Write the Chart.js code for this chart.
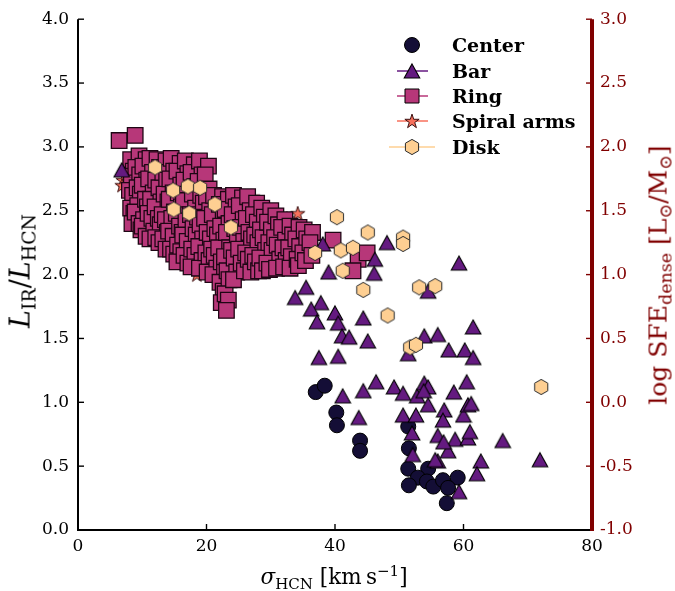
<!DOCTYPE html>
<html><head><meta charset="utf-8">
<script src="https://cdn.jsdelivr.net/npm/chart.js@4"></script>
<style>
html,body{margin:0;padding:0;background:#fff;}
#wrap{position:relative;width:675px;height:591px;overflow:hidden;background:#fff;}
#c{position:absolute;left:0;top:0;}
.t{position:absolute;white-space:nowrap;font-family:"DejaVu Serif",serif;line-height:1;}
.sub{font-size:70%;position:relative;top:0.3em;}
.sup{font-size:70%;position:relative;top:-0.5em;}
.leg{position:absolute;left:452px;font-family:"DejaVu Serif",serif;font-weight:bold;font-size:19px;line-height:22px;height:22px;white-space:nowrap;color:#000;}
</style></head><body>
<div id="wrap">
<canvas id="c" width="675" height="591"></canvas>
<div class="t" style="left:20px;top:271px;transform:translate(-50%,-50%) rotate(-90deg);font-size:27px;color:#000;"><i>L</i><span class="sub">IR</span>/<i>L</i><span class="sub">HCN</span></div>
<div class="t" style="left:334px;top:577px;transform:translate(-50%,-50%);font-size:21.5px;color:#000;"><i>σ</i><span class="sub">HCN</span> [km&#8201;s<span class="sup">−1</span>]</div>
<div class="t" style="left:658px;top:275px;transform:translate(-50%,-50%) rotate(-90deg);font-size:25px;color:#800000;">log SFE<span class="sub">dense</span> [L<span class="sub">⊙</span>/M<span class="sub">⊙</span>]</div>
<div class="leg" style="top:34px;">Center</div>
<div class="leg" style="top:60px;">Bar</div>
<div class="leg" style="top:85px;">Ring</div>
<div class="leg" style="top:110px;">Spiral arms</div>
<div class="leg" style="top:136px;">Disk</div>
</div>
<script>
// ---- data ----
const xRange = [0, 80];
const yLeftRange = [0, 4];
const yRightRange = [-1, 3];
const seriesNames = ['Center', 'Bar', 'Ring', 'Spiral arms', 'Disk'];

const centerX = [37.0,38.4,40.2,40.3,43.9,43.9,51.4,51.5,51.4,54.5,52.9,54.3,51.5,55.3,56.8,59.1,57.6,57.4];
const centerY = [1.08,1.13,0.92,0.82,0.70,0.62,0.81,0.64,0.48,0.48,0.41,0.38,0.35,0.34,0.39,0.41,0.33,0.21];

const barX = [6.8,38.1,39.0,48.1,46.2,46.1,59.3,35.5,33.8,37.8,36.3,40.0,37.2,40.5,44.4,41.1,42.2,45.1,53.9,56.0,61.5,51.4,37.5,40.5,57.7,60.2,61.5,54.5,
  41.2,44.4,46.4,49.2,50.6,52.8,53.9,54.5,53.8,58.5,60.5,43.7,50.6,52.6,54.5,57.0,56.8,60.0,60.7,61.2,52.0,56.0,58.7,60.7,61.0,57.6,56.9,52.1,56.0,55.6,66.1,62.7,62.1,59.3,71.9];
const barY = [2.82,2.24,2.02,2.25,2.12,2.01,2.09,1.90,1.82,1.78,1.73,1.70,1.63,1.62,1.66,1.52,1.51,1.48,1.52,1.53,1.59,1.38,1.35,1.36,1.41,1.41,1.35,1.87,
  1.05,1.09,1.16,1.12,1.07,1.05,1.15,1.12,1.09,1.08,1.16,0.88,0.90,0.90,0.98,0.94,0.86,0.90,0.98,0.99,0.76,0.74,0.71,0.72,0.77,0.62,0.69,0.59,0.54,0.55,0.70,0.54,0.44,0.30,0.55];

const ringX = [6.4,8.9,
  8.2,8.6,8.3,8.0,8.5,8.2,8.7,8.4,
  9.5,9.0,9.6,9.2,9.7,9.3,8.9,9.5,9.8,
  10.6,10.1,10.7,10.0,10.5,10.8,10.2,10.0,10.6,
  11.2,11.6,11.0,11.7,11.3,10.9,11.5,11.8,11.2,
  12.3,12.7,12.1,12.6,12.9,12.0,12.5,12.8,12.1,12.6,
  13.7,13.2,13.8,13.4,14.0,13.1,13.6,13.9,13.2,13.7,
  14.5,14.9,14.3,14.8,14.2,15.0,14.6,14.1,14.8,14.4,14.9,
  15.9,15.4,16.0,15.6,16.1,15.3,15.8,16.2,15.5,16.0,15.4,
  16.7,17.1,16.5,17.0,16.4,17.2,16.8,16.3,17.0,16.5,17.1,
  18.1,17.6,18.2,17.8,18.3,17.5,17.9,18.4,17.7,18.2,17.6,
  18.9,19.3,18.7,19.1,19.5,18.6,19.0,19.4,18.8,19.3,18.9,
  20.3,19.8,20.4,20.0,20.5,19.7,20.1,20.6,19.9,20.4,20.1,
  21.1,21.5,20.9,21.3,21.7,20.8,21.2,21.6,21.0,
  22.5,22.0,22.6,22.2,22.7,21.9,22.3,22.8,22.1,22.6,22.3,
  23.4,22.9,23.5,23.1,23.6,22.8,23.2,23.5,22.9,23.4,23.1,
  24.2,24.6,24.0,24.4,24.8,23.9,24.3,24.7,24.2,
  25.6,25.1,25.7,25.3,25.8,25.0,25.4,25.9,
  26.4,26.8,26.2,26.6,27.0,26.1,26.5,26.9,
  27.8,27.3,27.9,27.5,28.0,27.2,27.6,28.1,
  28.6,29.0,28.4,28.8,29.2,28.3,28.7,
  30.0,29.5,30.1,29.7,30.2,29.4,29.8,
  30.8,31.2,30.6,31.0,31.4,30.9,
  32.2,31.7,32.3,31.9,32.4,32.0,
  33.0,33.4,32.8,33.2,33.0,
  34.4,33.9,34.5,34.1,34.3,
  35.2,35.6,35.0,35.4,
  36.5,36.1,36.4,
  39.7,43.6,45.0,42.8];
const ringY = [3.05,3.09,
  2.90,2.81,2.77,2.66,2.62,2.52,2.48,2.40,
  2.93,2.84,2.78,2.68,2.63,2.54,2.49,2.40,2.35,
  2.90,2.85,2.74,2.70,2.59,2.53,2.43,2.38,2.30,
  2.91,2.80,2.75,2.64,2.59,2.48,2.44,2.34,2.28,
  2.90,2.84,2.74,2.68,2.57,2.53,2.44,2.39,2.29,2.25,
  2.89,2.80,2.74,2.63,2.57,2.47,2.43,2.33,2.28,2.20,
  2.91,2.81,2.75,2.64,2.59,2.49,2.44,2.34,2.30,2.20,2.16,
  2.87,2.81,2.70,2.64,2.53,2.48,2.38,2.33,2.23,2.18,2.10,
  2.89,2.79,2.74,2.63,2.58,2.47,2.42,2.31,2.26,2.15,2.09,
  2.86,2.80,2.69,2.63,2.52,2.47,2.36,2.31,2.20,2.15,2.06,
  2.89,2.78,2.73,2.62,2.56,2.45,2.39,2.28,2.22,2.11,2.05,
  2.85,2.78,2.67,2.61,2.50,2.44,2.33,2.28,2.17,2.11,2.02,
  2.62,2.52,2.47,2.36,2.31,2.20,2.15,2.05,2.00,
  2.61,2.55,2.44,2.38,2.27,2.21,2.10,2.04,1.94,1.87,1.78,
  2.59,2.51,2.40,2.33,2.21,2.14,2.03,1.96,1.85,1.80,1.72,
  2.62,2.53,2.47,2.36,2.30,2.19,2.13,2.02,1.96,
  2.60,2.54,2.43,2.37,2.26,2.20,2.09,2.03,
  2.61,2.50,2.44,2.33,2.28,2.17,2.12,2.02,
  2.56,2.47,2.41,2.31,2.25,2.15,2.10,2.03,
  2.52,2.45,2.35,2.29,2.19,2.13,2.03,
  2.50,2.41,2.35,2.25,2.19,2.09,2.04,
  2.46,2.39,2.29,2.23,2.12,2.05,
  2.43,2.37,2.27,2.21,2.11,2.06,
  2.38,2.31,2.21,2.14,2.05,
  2.37,2.28,2.22,2.12,2.07,
  2.35,2.28,2.17,2.11,
  2.33,2.25,2.15,
  2.27,2.12,2.17,2.03];

const spiralX = [7.0,6.85,18.5,27.2,34.2,32.5,33.3];
const spiralY = [2.74,2.70,2.00,2.61,2.48,2.44,2.20];

const diskX = [12.0,14.8,17.1,19.0,21.3,14.9,17.3,23.8,40.3,45.1,50.6,50.6,36.9,40.9,42.8,41.2,44.4,53.1,55.6,48.2,51.7,52.6,72.1];
const diskY = [2.84,2.66,2.69,2.68,2.55,2.51,2.48,2.37,2.45,2.33,2.29,2.24,2.17,2.19,2.21,2.03,1.88,1.90,1.91,1.68,1.43,1.45,1.12];

// ---- styling ----
const COL = {center:'#140e36', bar:'#641a80', ring:'#b73779', spiral:'#f7705c', disk:'#fecf92'};
const MAROON = '#800000';
const FONT = '"DejaVu Serif", serif';

function markerCanvas(w, h, draw){
  const c = document.createElement('canvas'); c.width = w; c.height = h;
  const g = c.getContext('2d'); draw(g, w/2, h/2); return c;
}
function triPath(g, cx, cy, w, h){
  g.beginPath(); g.moveTo(cx, cy - h/2); g.lineTo(cx + w/2, cy + h/2); g.lineTo(cx - w/2, cy + h/2); g.closePath();
}
function starPath(g, cx, cy, R){
  const r = R * 0.382; g.beginPath();
  for(let i=0;i<10;i++){const a=-Math.PI/2+i*Math.PI/5; const rr=i%2?r:R; const px=cx+rr*Math.cos(a), py=cy+rr*Math.sin(a); i?g.lineTo(px,py):g.moveTo(px,py);}
  g.closePath();
}
function hexPath(g, cx, cy, R){
  g.beginPath();
  for(let i=0;i<6;i++){const a=-Math.PI/2+i*Math.PI/3; const px=cx+R*Math.cos(a), py=cy+R*Math.sin(a); i?g.lineTo(px,py):g.moveTo(px,py);}
  g.closePath();
}
const triImg = markerCanvas(18, 18, (g,cx,cy)=>{triPath(g,cx,cy,15.5,14); g.fillStyle=COL.bar; g.fill(); g.lineWidth=1.1; g.strokeStyle='#000'; g.stroke();});
const starImg = markerCanvas(18, 18, (g,cx,cy)=>{starPath(g,cx,cy+0.6,7.5); g.fillStyle=COL.spiral; g.fill(); g.lineWidth=1; g.strokeStyle='#3a1010'; g.stroke();});
const hexImg = markerCanvas(18, 18, (g,cx,cy)=>{hexPath(g,cx,cy,7.6); g.fillStyle=COL.disk; g.fill(); g.lineWidth=1; g.strokeStyle='#2a2a2a'; g.stroke();});

const toPts = (xs, ys) => xs.map((x, i) => ({x, y: ys[i]}));

const decor = {
  id: 'decor',
  afterDatasetsDraw(chart){
    const ctx = chart.ctx, a = chart.chartArea;
    const xs = chart.scales.x, ys = chart.scales.y, y2 = chart.scales.y2;
    const seg = (x1,y1,x2,y2_) => {ctx.beginPath(); ctx.moveTo(x1,y1); ctx.lineTo(x2,y2_); ctx.stroke();};
    ctx.save();
    ctx.strokeStyle = '#000'; ctx.lineWidth = 1.4;
    xs.ticks.forEach(t => {const p = xs.getPixelForValue(t.value); seg(p, a.bottom, p, a.bottom - 6);});
    ys.ticks.forEach(t => {const p = ys.getPixelForValue(t.value); seg(a.left, p, a.left + 6, p);});
    ctx.strokeStyle = MAROON;
    y2.ticks.forEach(t => {const p = y2.getPixelForValue(t.value); seg(a.right, p, a.right - 6, p);});
    ctx.strokeStyle = '#000'; ctx.lineWidth = 2;
    seg(a.left, a.top, a.left, a.bottom + 1);
    seg(a.left - 1, a.bottom, a.right, a.bottom);
    ctx.strokeStyle = MAROON; ctx.lineWidth = 4;
    seg(a.right, a.top, a.right, a.bottom + 1);
    const lx = 412, rows = [45, 71, 96, 121, 147];
    ctx.lineWidth = 1.5;
    ctx.strokeStyle = COL.bar; seg(397, rows[1], 428, rows[1]);
    ctx.strokeStyle = COL.ring; seg(397, rows[2], 428, rows[2]);
    ctx.strokeStyle = COL.spiral; seg(397, rows[3], 428, rows[3]);
    ctx.strokeStyle = COL.disk; seg(389, rows[4], 435, rows[4]);
    ctx.fillStyle = COL.center; ctx.strokeStyle = '#000'; ctx.lineWidth = 1;
    ctx.beginPath(); ctx.arc(lx, rows[0], 7.5, 0, Math.PI*2); ctx.fill(); ctx.stroke();
    ctx.drawImage(triImg, lx - 9, rows[1] - 9);
    ctx.fillStyle = COL.ring; ctx.beginPath(); ctx.rect(lx - 7, rows[2] - 7, 14, 14); ctx.fill(); ctx.stroke();
    ctx.drawImage(starImg, lx - 9, rows[3] - 9);
    ctx.drawImage(hexImg, lx - 9, rows[4] - 9);
    ctx.restore();
  }
};

const tickFont = {family: FONT, size: 17};
new Chart(document.getElementById('c'), {
  type: 'scatter',
  data: {
    datasets: [
      {label: seriesNames[0], data: toPts(centerX, centerY), order: 3, pointStyle: 'circle', pointRadius: 7.5, backgroundColor: COL.center, borderColor: '#000', borderWidth: 1},
      {label: seriesNames[1], data: toPts(barX, barY), order: 1, pointStyle: triImg, pointRadius: 8, backgroundColor: COL.bar, borderColor: '#000'},
      {label: seriesNames[2], data: toPts(ringX, ringY), order: 2, pointStyle: 'rect', pointRadius: 11, backgroundColor: COL.ring, borderColor: '#1e0614', borderWidth: 1.3},
      {label: seriesNames[3], data: toPts(spiralX, spiralY), order: 4, pointStyle: starImg, pointRadius: 7, backgroundColor: COL.spiral, borderColor: '#000'},
      {label: seriesNames[4], data: toPts(diskX, diskY), order: 0, pointStyle: hexImg, pointRadius: 7.5, backgroundColor: COL.disk, borderColor: '#000'}
    ]
  },
  options: {
    responsive: false,
    animation: false,
    events: [],
    layout: {padding: {top: 18, left: 0, right: 0, bottom: 0}},
    plugins: {legend: {display: false}, tooltip: {enabled: false}},
    scales: {
      x: {type: 'linear', position: 'bottom', min: xRange[0], max: xRange[1],
          ticks: {stepSize: 20, color: '#000', font: tickFont, padding: 6, maxRotation: 0},
          grid: {display: false, drawTicks: false}, border: {display: false},
          afterFit(s){ s.height = 61; }},
      y: {type: 'linear', position: 'left', min: yLeftRange[0], max: yLeftRange[1],
          ticks: {stepSize: 0.5, color: '#000', font: tickFont, padding: 9, callback: v => v.toFixed(1)},
          grid: {display: false, drawTicks: false}, border: {display: false},
          afterFit(s){ s.width = 78; }},
      y2: {type: 'linear', position: 'right', min: yRightRange[0], max: yRightRange[1],
          ticks: {stepSize: 0.5, color: MAROON, font: tickFont, padding: 8, callback: v => v.toFixed(1)},
          grid: {display: false, drawTicks: false}, border: {display: false},
          afterFit(s){ s.width = 83; }}
    }
  },
  plugins: [decor]
});
</script>
</body></html>
